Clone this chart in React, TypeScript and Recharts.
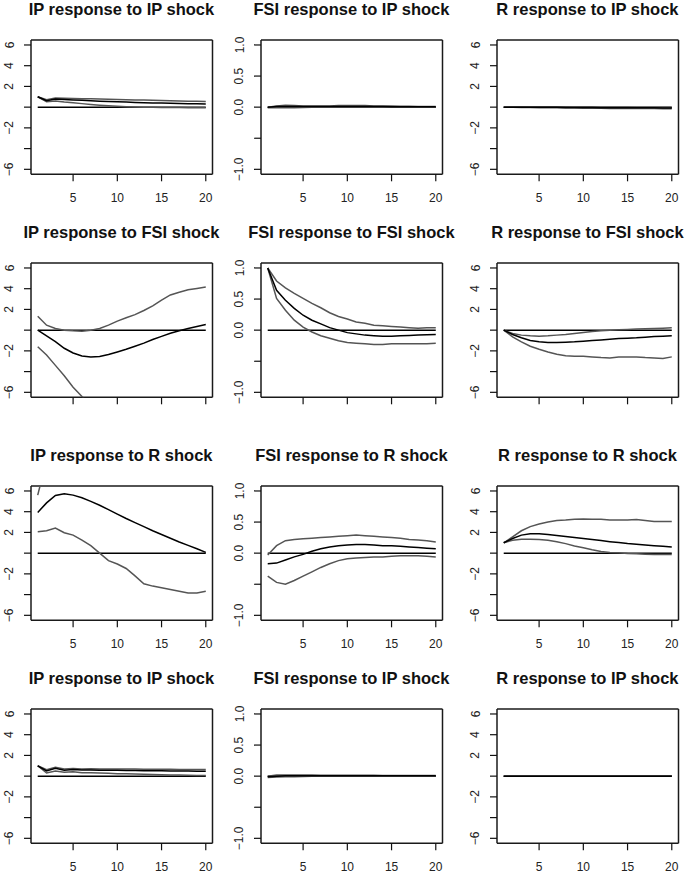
import { LineChart, Line, XAxis, YAxis, ReferenceLine } from 'recharts'

// horizon (months after shock)
const horizon = [1, 2, 3, 4, 5, 6, 7, 8, 9, 10, 11, 12, 13, 14, 15, 16, 17, 18, 19, 20]

const xTicks = [5, 10, 15, 20]
const wideTicks = [-6, -4, -2, 0, 2, 4, 6]
const wideLabels = [-6, -2, 2, 4, 6]
const narrowTicks = [-1, -0.5, 0, 0.5, 1]
const narrowLabels = [-1, 0, 0.5, 1]

// row 1: IP shock
const ipIpUpper = [1.0, 0.72, 0.88, 0.86, 0.84, 0.82, 0.8, 0.78, 0.76, 0.74, 0.72, 0.7, 0.68, 0.66, 0.64, 0.62, 0.6, 0.58, 0.56, 0.55]
const ipIpMedian = [1.0, 0.62, 0.78, 0.74, 0.7, 0.66, 0.62, 0.58, 0.55, 0.52, 0.49, 0.46, 0.43, 0.41, 0.39, 0.37, 0.35, 0.33, 0.32, 0.3]
const ipIpLower = [1.0, 0.52, 0.6, 0.5, 0.42, 0.34, 0.26, 0.19, 0.13, 0.08, 0.04, 0.01, -0.01, -0.02, -0.03, -0.04, -0.04, -0.05, -0.05, -0.05]

const fsiIpUpper = [0.0, 0.02, 0.03, 0.025, 0.02, 0.02, 0.02, 0.02, 0.025, 0.025, 0.025, 0.025, 0.02, 0.02, 0.02, 0.015, 0.015, 0.01, 0.01, 0.01]
const fsiIpMedian = [0.0, 0.01, 0.01, 0.01, 0.01, 0.01, 0.01, 0.01, 0.01, 0.01, 0.01, 0.01, 0.01, 0.01, 0.005, 0.005, 0.005, 0.005, 0.005, 0.005]
const fsiIpLower = [-0.01, -0.01, -0.01, -0.01, -0.005, 0.0, 0.0, 0.0, 0.0, 0.0, 0.0, 0.0, 0.0, 0.0, 0.0, 0.0, 0.0, 0.0, 0.0, 0.0]

const rIpUpper = [0.0, 0.03, 0.03, 0.02, 0.02, 0.02, 0.01, 0.01, 0.0, 0.0, -0.01, -0.01, -0.02, -0.02, -0.02, -0.03, -0.03, -0.03, -0.03, -0.03]
const rIpMedian = [0.0, 0.0, 0.0, -0.01, -0.01, -0.02, -0.02, -0.03, -0.03, -0.04, -0.04, -0.05, -0.05, -0.06, -0.06, -0.07, -0.07, -0.07, -0.08, -0.08]
const rIpLower = [0.0, -0.02, -0.03, -0.04, -0.05, -0.06, -0.07, -0.08, -0.09, -0.1, -0.1, -0.11, -0.12, -0.12, -0.13, -0.13, -0.14, -0.14, -0.15, -0.15]

// row 2: FSI shock
const ipFsiUpper = [1.35, 0.48, 0.16, 0.0, -0.06, -0.1, 0.0, 0.16, 0.48, 0.87, 1.2, 1.5, 1.9, 2.35, 2.9, 3.4, 3.65, 3.9, 4.03, 4.16]
const ipFsiMedian = [0.0, -0.55, -1.1, -1.75, -2.2, -2.5, -2.6, -2.55, -2.35, -2.1, -1.85, -1.55, -1.25, -0.9, -0.6, -0.3, -0.05, 0.15, 0.35, 0.55]
const ipFsiLower = [-1.6, -2.4, -3.4, -4.4, -5.5, -6.4, -7.2, -7.9, -8.4, null, null, null, null, null, null, null, null, null, null, null]

const fsiFsiUpper = [1.0, 0.79, 0.68, 0.59, 0.51, 0.43, 0.36, 0.28, 0.22, 0.18, 0.13, 0.11, 0.08, 0.07, 0.06, 0.05, 0.04, 0.03, 0.04, 0.04]
const fsiFsiMedian = [1.0, 0.64, 0.48, 0.35, 0.24, 0.16, 0.1, 0.04, 0.0, -0.04, -0.06, -0.08, -0.09, -0.1, -0.1, -0.09, -0.085, -0.08, -0.075, -0.07]
const fsiFsiLower = [1.0, 0.51, 0.32, 0.16, 0.05, -0.03, -0.09, -0.13, -0.17, -0.2, -0.21, -0.22, -0.23, -0.23, -0.22, -0.22, -0.22, -0.22, -0.22, -0.21]

const rFsiUpper = [0.0, -0.32, -0.48, -0.55, -0.58, -0.55, -0.48, -0.42, -0.32, -0.23, -0.13, -0.06, 0.0, 0.03, 0.06, 0.1, 0.13, 0.16, 0.19, 0.23]
const rFsiMedian = [0.0, -0.42, -0.74, -1.0, -1.13, -1.19, -1.19, -1.16, -1.13, -1.06, -1.0, -0.94, -0.87, -0.81, -0.77, -0.74, -0.68, -0.61, -0.58, -0.55]
const rFsiLower = [0.0, -0.65, -1.13, -1.55, -1.84, -2.1, -2.32, -2.48, -2.52, -2.52, -2.58, -2.65, -2.68, -2.6, -2.58, -2.6, -2.65, -2.68, -2.74, -2.58]

// row 3: R shock
const ipRUpper = [5.6, 9.0, 10.5, null, null, null, null, null, null, null, null, null, null, null, null, null, null, null, null, null]
const ipRMedian = [3.93, 4.85, 5.57, 5.74, 5.6, 5.34, 5.0, 4.62, 4.2, 3.77, 3.34, 2.95, 2.56, 2.16, 1.8, 1.44, 1.08, 0.75, 0.43, 0.07]
const ipRLower = [2.07, 2.16, 2.42, 1.97, 1.74, 1.25, 0.72, 0.0, -0.72, -1.05, -1.48, -2.2, -2.95, -3.18, -3.34, -3.5, -3.67, -3.84, -3.84, -3.67]

const fsiRUpper = [-0.03, 0.12, 0.2, 0.22, 0.23, 0.24, 0.25, 0.26, 0.27, 0.28, 0.29, 0.28, 0.27, 0.26, 0.25, 0.24, 0.22, 0.21, 0.2, 0.18]
const fsiRMedian = [-0.17, -0.16, -0.11, -0.06, -0.02, 0.03, 0.07, 0.1, 0.12, 0.13, 0.14, 0.14, 0.13, 0.12, 0.12, 0.11, 0.1, 0.09, 0.08, 0.07]
const fsiRLower = [-0.37, -0.47, -0.5, -0.44, -0.37, -0.3, -0.23, -0.17, -0.12, -0.09, -0.08, -0.07, -0.06, -0.06, -0.05, -0.04, -0.04, -0.04, -0.05, -0.06]

const rRUpper = [1.0, 1.57, 2.16, 2.56, 2.82, 3.0, 3.15, 3.2, 3.28, 3.3, 3.28, 3.26, 3.21, 3.21, 3.21, 3.25, 3.15, 3.05, 3.05, 3.05]
const rRMedian = [1.0, 1.41, 1.74, 1.87, 1.87, 1.8, 1.7, 1.6, 1.5, 1.41, 1.31, 1.21, 1.11, 1.02, 0.92, 0.85, 0.79, 0.72, 0.66, 0.59]
const rRLower = [1.0, 1.25, 1.34, 1.34, 1.31, 1.25, 1.11, 0.92, 0.69, 0.52, 0.33, 0.16, 0.07, 0.03, -0.03, -0.07, -0.1, -0.13, -0.12, -0.13]

// row 4: IP shock (second ordering)
const ipIp2Upper = [1.0, 0.62, 0.85, 0.7, 0.75, 0.7, 0.72, 0.7, 0.7, 0.69, 0.68, 0.68, 0.67, 0.67, 0.66, 0.66, 0.65, 0.65, 0.65, 0.65]
const ipIp2Median = [1.0, 0.5, 0.75, 0.58, 0.65, 0.6, 0.6, 0.58, 0.57, 0.56, 0.55, 0.54, 0.53, 0.52, 0.51, 0.5, 0.5, 0.49, 0.48, 0.48]
const ipIp2Lower = [1.0, 0.3, 0.5, 0.38, 0.42, 0.34, 0.33, 0.3, 0.27, 0.24, 0.22, 0.2, 0.18, 0.16, 0.14, 0.12, 0.1, 0.09, 0.07, 0.06]

const fsiIp2Upper = [0.0, 0.02, 0.02, 0.02, 0.02, 0.02, 0.015, 0.015, 0.015, 0.015, 0.015, 0.015, 0.015, 0.01, 0.01, 0.01, 0.01, 0.01, 0.01, 0.01]
const fsiIp2Median = [-0.01, 0.0, 0.005, 0.005, 0.005, 0.005, 0.005, 0.005, 0.005, 0.005, 0.005, 0.005, 0.005, 0.005, 0.005, 0.005, 0.005, 0.005, 0.005, 0.005]
const fsiIp2Lower = [-0.02, -0.015, -0.01, -0.01, -0.005, 0.0, 0.0, 0.0, 0.0, 0.0, 0.0, 0.0, 0.0, 0.0, 0.0, 0.0, 0.0, 0.0, 0.0, 0.0]

const rIp2Upper = [0.0, 0.01, 0.01, 0.01, 0.01, 0.01, 0.01, 0.01, 0.02, 0.02, 0.02, 0.02, 0.02, 0.02, 0.03, 0.03, 0.03, 0.03, 0.03, 0.03]
const rIp2Median = [0.0, 0.0, 0.0, 0.0, 0.0, 0.0, 0.0, 0.0, 0.0, 0.0, 0.0, 0.0, 0.0, 0.0, 0.0, 0.0, 0.0, 0.0, 0.0, 0.0]
const rIp2Lower = [0.0, -0.01, -0.01, -0.01, -0.01, -0.01, -0.01, -0.01, -0.01, -0.01, -0.01, -0.01, -0.01, -0.01, -0.01, -0.01, -0.01, -0.01, -0.01, -0.01]

const FONT = '"Liberation Sans", Arial, Helvetica, sans-serif'
const BOX_W = 181.5
const BOX_H = 134.3
const X_MIN = 0.24
const X_MAX = 20.76
const colLeft = [30.7, 260.7, 496.7]
const rowTop = [40, 262.7, 485.7, 709]

const fmt = (v: number, narrow: boolean) => {
  const s = narrow ? Math.abs(v).toFixed(1) : String(Math.abs(v))
  return v < 0 ? '\u2212' + s : s
}

const YTick = ({ x, y, payload, labels, narrow }: any) => {
  if (!labels.includes(payload.value)) return <g />
  return (
    <text
      x={x} y={y}
      transform={`rotate(-90 ${x} ${y})`}
      textAnchor="middle"
      fontSize={12}
      fontFamily={FONT}
      fill="#222"
    >
      {fmt(payload.value, narrow)}
    </text>
  )
}

interface PanelProps {
  title: string
  row: number
  col: number
  upper: (number | null)[]
  median: (number | null)[]
  lower: (number | null)[]
  narrow?: boolean
  xLabels?: boolean
}

function Panel({ title, row, col, upper, median, lower, narrow = false, xLabels = true }: PanelProps) {
  const data = horizon.map((h, i) => ({ h, upper: upper[i], median: median[i], lower: lower[i] }))
  const left = colLeft[col]
  const top = rowTop[row]
  const ext = narrow ? 1.08 : 6.48
  const ticks = narrow ? narrowTicks : wideTicks
  const labels = narrow ? narrowLabels : wideLabels

  // the four sides of R's box() around the plot region
  const sides = [
    [{ x: X_MIN, y: -ext }, { x: X_MAX, y: -ext }],
    [{ x: X_MIN, y: ext }, { x: X_MAX, y: ext }],
    [{ x: X_MIN, y: -ext }, { x: X_MIN, y: ext }],
    [{ x: X_MAX, y: -ext }, { x: X_MAX, y: ext }],
  ]

  return (
    <div>
      <div style={{
        position: 'absolute', left: left + BOX_W / 2 - 150, width: 300, top: top - 39,
        textAlign: 'center', fontFamily: FONT, fontWeight: 'bold', fontSize: 16.5,
        lineHeight: '16.5px', whiteSpace: 'nowrap', color: '#111'
      }}>
        {title}
      </div>
      <div style={{ position: 'absolute', left: left - 40, top: top - 5 }}>
        <LineChart width={BOX_W + 45} height={BOX_H + 35} data={data} margin={{ top: 5, right: 5, left: 0, bottom: 0 }}>
          <XAxis
            dataKey="h" type="number" domain={[X_MIN, X_MAX]} ticks={xTicks}
            axisLine={false} tickSize={7} tickMargin={12} height={30}
            tickLine={{ stroke: '#111', strokeWidth: 1.2 }}
            tick={xLabels ? { fill: '#222', fontSize: 12, fontFamily: FONT } : () => <g />}
            interval={0}
          />
          <YAxis
            type="number" domain={[-ext, ext]} ticks={ticks} allowDataOverflow
            axisLine={false} tickSize={7} tickMargin={10.5} width={40}
            tickLine={{ stroke: '#111', strokeWidth: 1.2 }}
            tick={<YTick labels={labels} narrow={narrow} />}
            interval={0}
          />
          {sides.map((seg, i) => (
            <ReferenceLine key={i} segment={seg} stroke="#1a1a1a" strokeWidth={1.5} ifOverflow="visible" />
          ))}
          <ReferenceLine segment={[{ x: 1, y: 0 }, { x: 20, y: 0 }]} stroke="#000" strokeWidth={1.5} />
          <Line type="linear" dataKey="upper" stroke="#555" strokeWidth={1.5} dot={false} isAnimationActive={false} />
          <Line type="linear" dataKey="lower" stroke="#555" strokeWidth={1.5} dot={false} isAnimationActive={false} />
          <Line type="linear" dataKey="median" stroke="#000" strokeWidth={1.5} dot={false} isAnimationActive={false} />
        </LineChart>
      </div>
    </div>
  )
}

export default function App() {
  return (
    <div style={{ position: 'absolute', left: 0, top: 0, width: 685, height: 874, background: '#fff', overflow: 'hidden' }}>
      <Panel title="IP response to IP shock" row={0} col={0} upper={ipIpUpper} median={ipIpMedian} lower={ipIpLower} />
      <Panel title="FSI response to IP shock" row={0} col={1} upper={fsiIpUpper} median={fsiIpMedian} lower={fsiIpLower} narrow />
      <Panel title="R response to IP shock" row={0} col={2} upper={rIpUpper} median={rIpMedian} lower={rIpLower} />

      <Panel title="IP response to FSI shock" row={1} col={0} upper={ipFsiUpper} median={ipFsiMedian} lower={ipFsiLower} xLabels={false} />
      <Panel title="FSI response to FSI shock" row={1} col={1} upper={fsiFsiUpper} median={fsiFsiMedian} lower={fsiFsiLower} narrow xLabels={false} />
      <Panel title="R response to FSI shock" row={1} col={2} upper={rFsiUpper} median={rFsiMedian} lower={rFsiLower} xLabels={false} />

      <Panel title="IP response to R shock" row={2} col={0} upper={ipRUpper} median={ipRMedian} lower={ipRLower} />
      <Panel title="FSI response to R shock" row={2} col={1} upper={fsiRUpper} median={fsiRMedian} lower={fsiRLower} narrow />
      <Panel title="R response to R shock" row={2} col={2} upper={rRUpper} median={rRMedian} lower={rRLower} />

      <Panel title="IP response to IP shock" row={3} col={0} upper={ipIp2Upper} median={ipIp2Median} lower={ipIp2Lower} />
      <Panel title="FSI response to IP shock" row={3} col={1} upper={fsiIp2Upper} median={fsiIp2Median} lower={fsiIp2Lower} narrow />
      <Panel title="R response to IP shock" row={3} col={2} upper={rIp2Upper} median={rIp2Median} lower={rIp2Lower} />
    </div>
  )
}
